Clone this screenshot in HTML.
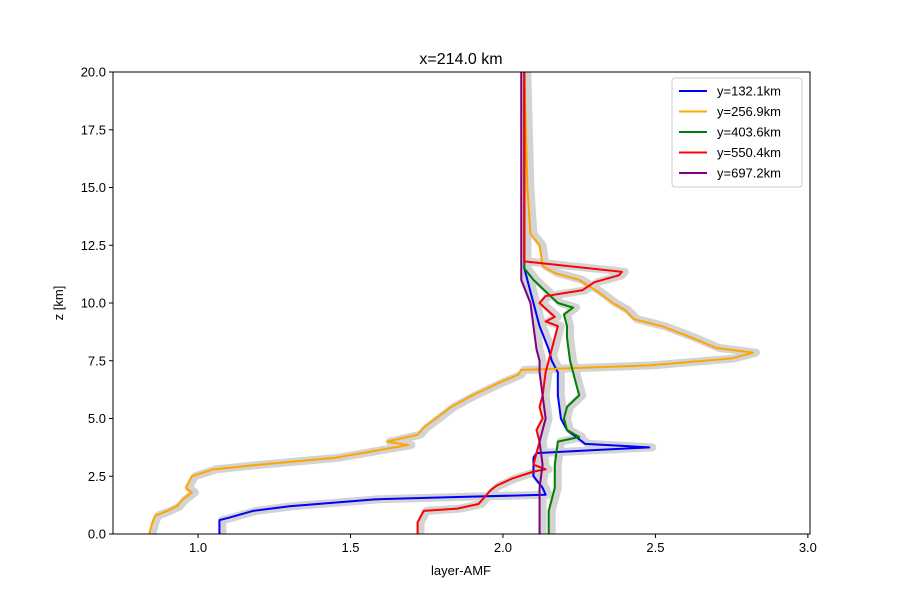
<!DOCTYPE html>
<html><head><meta charset="utf-8"><style>
body{margin:0;background:#fff}
svg text{font-family:"Liberation Sans",sans-serif;font-size:13px;fill:#000}
</style></head><body>
<svg id="c" width="900" height="600">
<rect width="900" height="600" fill="#fff"/>
<g id="bands"></g><g id="lines"></g>
<rect x="113" y="72" width="697" height="462" fill="none" stroke="#000" stroke-width="1"/>
<g id="axes"></g>
<text x="461" y="64" text-anchor="middle" style="font-size:16px">x=214.0 km</text>
<text x="461" y="575" text-anchor="middle">layer-AMF</text>
<text transform="translate(63,303) rotate(-90)" text-anchor="middle">z [km]</text>
<g id="legend"></g>
</svg>
<script>
const xTicks=[1.0,1.5,2.0,2.5,3.0];
const yTicks=[0,2.5,5,7.5,10,12.5,15,17.5,20];
const seriesNames=["y=132.1km","y=256.9km","y=403.6km","y=550.4km","y=697.2km"];
const seriesColors=["blue","orange","green","red","purple"];
const zBlue=[0,0.6,0.7,1.0,1.2,1.5,1.6,1.7,2.0,2.5,2.8,3.3,3.5,3.6,3.75,3.9,4.2,4.5,5,6,7,7.5,8,9,10,10.5,11.5,13,20];
const vBlue=[1.07,1.07,1.10,1.18,1.30,1.58,1.85,2.14,2.13,2.10,2.10,2.10,2.11,2.25,2.48,2.27,2.24,2.21,2.19,2.18,2.18,2.16,2.15,2.12,2.10,2.09,2.07,2.07,2.07];
const zOrange=[0,0.5,0.8,1.0,1.2,1.5,1.8,2.0,2.5,2.8,3.0,3.3,3.6,3.85,4.0,4.3,4.6,5.0,5.5,6.0,6.5,6.9,7.1,7.3,7.6,7.85,8.05,8.5,9.0,9.3,9.7,10.0,10.5,11.0,11.3,11.6,12.5,13,15,20];
const vOrange=[0.84,0.85,0.86,0.90,0.93,0.95,0.98,0.96,0.98,1.05,1.20,1.45,1.58,1.69,1.62,1.72,1.74,1.78,1.83,1.90,1.98,2.05,2.06,2.48,2.75,2.82,2.70,2.62,2.52,2.43,2.40,2.36,2.31,2.25,2.17,2.13,2.12,2.09,2.08,2.07];
const zGreen=[0,1,1.5,2,2.5,3,4,4.2,4.5,5,5.5,6,6.5,7.5,8.5,9,9.5,9.8,10,10.5,11,11.5,20];
const vGreen=[2.15,2.15,2.16,2.17,2.17,2.17,2.18,2.25,2.21,2.20,2.21,2.25,2.24,2.22,2.21,2.21,2.20,2.23,2.18,2.14,2.10,2.07,2.07];
const zRed=[0,0.5,1.0,1.1,1.3,1.6,1.9,2.1,2.4,2.7,2.8,3.0,4.0,4.5,5.0,5.5,6.0,7.0,7.5,8.0,8.5,9.0,9.2,9.4,10.0,10.3,10.55,10.9,11.2,11.35,11.8,20];
const vRed=[1.72,1.72,1.74,1.85,1.92,1.94,1.96,1.98,2.03,2.10,2.14,2.10,2.12,2.11,2.13,2.12,2.13,2.14,2.15,2.16,2.17,2.18,2.14,2.17,2.12,2.14,2.26,2.30,2.38,2.39,2.07,2.07];
const zPurple=[0,2,3,4,5,6,7,7.5,8,9,10,11,11.5,20];
const vPurple=[2.12,2.12,2.13,2.12,2.14,2.13,2.12,2.12,2.11,2.10,2.09,2.06,2.06,2.06];
const allZ=[zBlue,zOrange,zGreen,zRed,zPurple], allV=[vBlue,vOrange,vGreen,vRed,vPurple];
const X0=113,X1=810,Y0=534,Y1=72,xmin=0.721,xmax=3.007,ymin=0,ymax=20;
const sx=v=>X0+(v-xmin)/(xmax-xmin)*(X1-X0);
const sy=z=>Y0-(z-ymin)/(ymax-ymin)*(Y0-Y1);
const NS="http://www.w3.org/2000/svg";
function mk(t,a,p){const e=document.createElementNS(NS,t);for(const k in a)e.setAttribute(k,a[k]);p.appendChild(e);return e;}
const axes=document.getElementById('axes');
xTicks.forEach(t=>{const x=sx(t);
 const l=mk('line',{x1:x,x2:x,y1:Y0,y2:Y0+4,stroke:'#000'},axes);
 
 
 const tx=mk('text',{x:x,y:Y0+18,'text-anchor':'middle'},axes);tx.textContent=t.toFixed(1);
 
 });
yTicks.forEach(t=>{const y=sy(t);
 const l=mk('line',{x1:X0-4,x2:X0,y1:y,y2:y,stroke:'#000'},axes);
 
 
 const tx=mk('text',{x:X0-7,y:y+4.5,'text-anchor':'end'},axes);tx.textContent=t.toFixed(1);
 
 });
const bands=document.getElementById('bands'),lines=document.getElementById('lines');
allZ.forEach((zs,i)=>{
 const pts=zs.map((z,j)=>sx(allV[i][j])+','+sy(z)).join(' ');
 const ptsB=zs.map((z,j)=>(sx(allV[i][j])+3)+','+sy(z)).join(' ');
 const b=mk('polyline',{points:ptsB,fill:'none',stroke:'#d3d3d3','stroke-width':8,'stroke-linejoin':'round'},bands);
 
 
 const p=mk('polyline',{points:pts,fill:'none',stroke:seriesColors[i],'stroke-width':2,'stroke-linejoin':'round'},lines);
 
 
});
const lg=document.getElementById('legend');
const box=mk('rect',{x:672,y:78,width:130,height:109,rx:3,fill:'#fff',stroke:'#ccc','fill-opacity':0.8},lg);


seriesNames.forEach((n,i)=>{const y=91+i*20.5;
 const l=mk('line',{x1:679,x2:707,y1:y,y2:y,stroke:seriesColors[i],'stroke-width':2},lg);
 
 
 const t=mk('text',{x:717,y:y+4.5},lg);t.textContent=n;
 
 });
</script>
</body></html>
